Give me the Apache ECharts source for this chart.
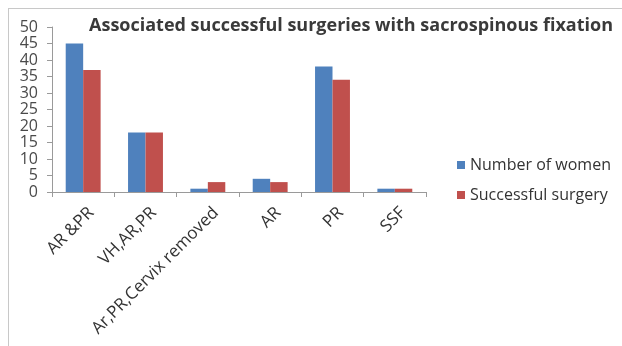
<!DOCTYPE html>
<html>
<head>
<meta charset="utf-8">
<script src="https://cdn.jsdelivr.net/npm/echarts@6/dist/echarts.min.js"></script>
<style>
html,body{margin:0;padding:0;background:#fff;}
#chart{width:622px;height:346px;}
</style>
</head>
<body>
<div id="chart"></div>
<script>
// Procedures combined with sacrospinous fixation
const categories = ['AR &PR', 'VH,AR,PR', 'Ar,PR,Cervix removed', 'AR', 'PR', 'SSF'];
const numberOfWomen = [45, 18, 1, 4, 38, 1];
const successfulSurgery = [37, 18, 3, 3, 34, 1];
const yTicks = [0, 5, 10, 15, 20, 25, 30, 35, 40, 45, 50];

const chart = echarts.init(document.getElementById('chart'));
chart.setOption({
  animation: false,
  backgroundColor: '#fff',
  title: {
    text: 'Associated successful surgeries with sacrospinous fixation',
    left: 346, top: 12, textAlign: 'center',
    textStyle: {fontFamily: 'Open Sans', fontSize: 18, fontWeight: 'bold', color: '#3a3a3a'}
  },
  legend: {
    orient: 'vertical', left: 452, top: 152,
    itemWidth: 8, itemHeight: 8, itemGap: 14,
    icon: 'rect',
    textStyle: {fontFamily: 'Open Sans', fontSize: 16, color: '#333'},
    data: ['Number of women', 'Successful surgery']
  },
  grid: {left: 52, right: 196, top: 27, bottom: 154, containLabel: false},
  xAxis: {
    type: 'category', data: categories,
    axisLine: {lineStyle: {color: '#9a9a9a'}},
    axisTick: {show: true, alignWithLabel: false, length: 5, lineStyle: {color: '#9a9a9a'}},
    axisLabel: {rotate: 45, interval: 0, fontFamily: 'Open Sans', fontSize: 17, color: '#333',
      margin: 10, verticalAlign: 'top', padding: [3, 0, 0, 0]}
  },
  yAxis: {
    type: 'value', min: yTicks[0], max: yTicks[yTicks.length - 1], interval: 5,
    axisLine: {show: true, lineStyle: {color: '#9a9a9a'}},
    axisTick: {show: true, length: 5, lineStyle: {color: '#9a9a9a'}},
    splitLine: {show: false},
    axisLabel: {fontFamily: 'Open Sans', fontSize: 16, color: '#4a4a4a', margin: 14}
  },
  series: [
    {name: 'Number of women', type: 'bar', data: numberOfWomen, barWidth: '28%', barGap: '0%',
     itemStyle: {color: '#4f81bd'}},
    {name: 'Successful surgery', type: 'bar', data: successfulSurgery, barWidth: '28%',
     itemStyle: {color: '#c0504d'}}
  ],
  graphic: [
    {type: 'line', shape: {x1: 8, y1: 8.5, x2: 622, y2: 8.5}, style: {stroke: '#c8c8c8', lineWidth: 1}},
    {type: 'line', shape: {x1: 8.5, y1: 8, x2: 8.5, y2: 346}, style: {stroke: '#c8c8c8', lineWidth: 1}}
  ]
});
</script>
</body>
</html>
